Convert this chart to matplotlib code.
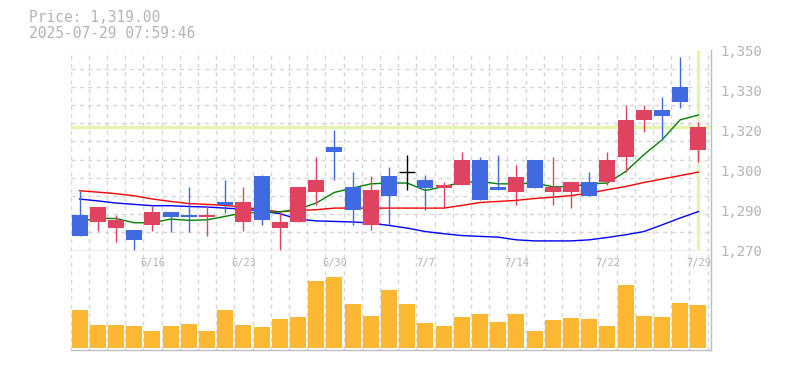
"""Daily candles with moving averages and volume, 6/10 - 7/29."""
import matplotlib
matplotlib.use("Agg")
import matplotlib.pyplot as plt
import numpy as np

dates = ["6/10", "6/11", "6/12", "6/13", "6/16", "6/17", "6/18", "6/19", "6/20",
         "6/23", "6/24", "6/25", "6/26", "6/27", "6/30", "7/1", "7/2", "7/3", "7/4",
         "7/7", "7/8", "7/9", "7/10", "7/11", "7/14", "7/15", "7/16", "7/17", "7/18",
         "7/22", "7/23", "7/24", "7/25", "7/28", "7/29"]
shown_dates = ["6/16", "6/23", "6/30", "7/7", "7/14", "7/22", "7/29"]

opens = [1286.1, 1283.2, 1281.3, 1280.5, 1282.1, 1287.2, 1286.1, 1285.1, 1291.0,
         1283.2, 1300.5, 1281.3, 1283.2, 1294.5, 1311.6, 1296.6, 1282.1, 1300.5, 1302.1,
         1299.2, 1296.3, 1297.1, 1306.7, 1296.6, 1294.5, 1306.7, 1294.5, 1294.5, 1298.5,
         1298.2, 1307.7, 1321.5, 1325.5, 1334.1, 1310.2]
closes = [1278.3, 1289.1, 1284.2, 1276.5, 1287.2, 1285.1, 1285.1, 1286.1, 1289.6,
          1291.0, 1284.0, 1283.5, 1296.6, 1299.2, 1309.5, 1287.7, 1295.5, 1293.3, 1302.1,
          1296.3, 1297.3, 1306.7, 1291.5, 1295.2, 1300.4, 1296.3, 1296.6, 1298.5, 1293.3,
          1306.7, 1321.7, 1325.5, 1323.3, 1328.2, 1319.0]
highs = [1295.1, 1289.1, 1286.1, 1280.5, 1289.2, 1287.2, 1296.6, 1289.8, 1299.2,
         1296.6, 1301.1, 1287.0, 1296.6, 1307.9, 1318.0, 1302.2, 1300.5, 1304.1, 1308.6,
         1301.1, 1298.5, 1309.7, 1307.9, 1308.6, 1304.9, 1306.7, 1307.9, 1298.5, 1302.2,
         1309.7, 1327.3, 1327.3, 1330.3, 1345.3, 1321.0]
lows = [1278.3, 1280.1, 1275.7, 1272.7, 1280.1, 1279.5, 1279.5, 1278.3, 1286.7,
        1280.1, 1282.1, 1272.7, 1283.2, 1289.6, 1299.0, 1282.1, 1280.2, 1282.1, 1295.2,
        1287.7, 1288.8, 1297.1, 1291.5, 1295.2, 1289.6, 1296.3, 1289.6, 1288.8, 1293.3,
        1297.1, 1302.1, 1317.0, 1314.0, 1326.3, 1305.7]

ma_short = [1283.7, 1284.7, 1284.7, 1283.1, 1283.1, 1284.5, 1284.0, 1284.2, 1285.5,
            1286.8, 1287.0, 1287.2, 1288.2, 1290.5, 1294.5, 1296.1, 1297.7, 1298.0, 1298.0,
            1295.2, 1296.7, 1298.2, 1298.6, 1297.7, 1297.7, 1298.0, 1296.6, 1296.6, 1297.7,
            1298.0, 1302.3, 1308.6, 1314.2, 1321.7, 1323.5]
ma_mid = [1295.1, 1294.6, 1294.0, 1293.2, 1292.0, 1291.1, 1290.3, 1290.0, 1289.6,
          1289.0, 1288.0, 1287.2, 1287.7, 1288.0, 1288.6, 1288.6, 1288.6, 1288.6, 1288.6,
          1288.6, 1288.6, 1289.6, 1290.7, 1291.1, 1291.5, 1292.2, 1292.7, 1293.3, 1294.2,
          1295.5, 1296.7, 1298.2, 1299.5, 1300.8, 1302.1]
ma_long = [1292.0, 1291.3, 1290.5, 1290.0, 1289.5, 1289.5, 1289.2, 1289.0, 1288.6,
           1288.2, 1287.5, 1286.5, 1284.5, 1283.8, 1283.6, 1283.4, 1283.0, 1282.1, 1281.1,
           1279.8, 1279.0, 1278.3, 1278.0, 1277.7, 1276.7, 1276.3, 1276.3, 1276.3, 1276.7,
           1277.6, 1278.6, 1279.8, 1282.3, 1284.9, 1287.3]

volume = [3800, 2300, 2300, 2200, 1700, 2200, 2400, 1700, 3800, 2300, 2100, 2900,
          3100, 6700, 7100, 4400, 3200, 5800, 4400, 2500, 2200, 3100, 3400, 2600,
          3400, 1700, 2800, 3000, 2900, 2200, 6300, 3200, 3100, 4500, 4300]

price_now = 1319.0
tick_labels = ["1,270", "1,290", "1,300", "1,320", "1,330", "1,350"]
y_lo, y_hi = 1272.7, 1347.7

RED = "#e0435f"
BLUE = "#4169e1"
GRID = "#d6d6d6"
AXIS = "#bdbdbd"
TEXT = "#b4b4b4"
HILITE = "#e4f5ae"
MONO = "DejaVu Sans Mono"

x = np.arange(len(dates))
o, c, h, l = map(np.array, (opens, closes, highs, lows))
cols = np.where(c > o, RED, np.where(c < o, BLUE, "black"))

fig = plt.figure(figsize=(7.85, 3.7), dpi=100)
ax = fig.add_axes([70.5 / 785, 1 - 250.5 / 370, 640 / 785, 200 / 370])
axv = fig.add_axes([70.5 / 785, 1 - 350 / 370, 640 / 785, 99.5 / 370])

xmax = len(dates) - 0.5 + 3 / 18.2
for a in (ax, axv):
    a.set_xlim(-0.5, xmax)
    for b in np.arange(-0.5, len(dates), 1.0):
        a.axvline(b, color=GRID, lw=1, ls=(0, (3, 3)), zorder=0)
    for s in ("left", "top"):
        a.spines[s].set_visible(False)
    for s in ("right", "bottom"):
        a.spines[s].set_color(AXIS)
        a.spines[s].set_linewidth(1)
    a.set_xticks([])
    a.tick_params(length=0)

# price panel
ax.set_ylim(y_lo, y_hi)
for gy in np.linspace(y_lo, y_hi, 12)[1:]:
    ax.axhline(gy, color=GRID, lw=1, ls=(0, (3, 3)), zorder=0)
ax.axhline(price_now, color=HILITE, lw=2.4, zorder=1)
ax.axvline(x[-1], ymin=0.012, color=HILITE, lw=2.4, zorder=1)

ax.plot(x, ma_mid, color="#ff0000", lw=1, zorder=2)
ax.plot(x, ma_long, color="#0000ff", lw=1, zorder=2)
ax.plot(x, ma_short, color="#008000", lw=1, zorder=2)

ax.vlines(x, l, h, colors=cols, lw=1, zorder=3)
body = np.abs(c - o)
ax.bar(x, body, bottom=np.minimum(o, c), width=0.88, color=cols, lw=0, zorder=4)
doji = body == 0
ax.hlines(o[doji], x[doji] - 0.44, x[doji] + 0.44, colors="black", lw=1, zorder=4)

ax.yaxis.tick_right()
ax.set_yticks(np.linspace(y_lo, y_hi, len(tick_labels)))
ax.set_yticklabels(tick_labels, family=MONO, fontsize=10, color=TEXT)
ax.tick_params(axis="y", pad=7)

# volume panel
axv.bar(x, volume, width=0.88, color="#fdb833", lw=0, zorder=2)
axv.set_ylim(-230, 9720)
axv.set_yticks([])
for d in shown_dates:
    axv.text(dates.index(d), 0.875, d, transform=axv.get_xaxis_transform(),
             ha="center", va="center", family=MONO, fontsize=7.5, color=TEXT)

fig.text(29 / 785, 1 - 18 / 370, "Price: 1,319.00", family=MONO, fontsize=10.5,
         color=TEXT, va="center", ha="left")
fig.text(29 / 785, 1 - 33 / 370, "2025-07-29 07:59:46", family=MONO, fontsize=10.5,
         color=TEXT, va="center", ha="left")

fig.savefig("out.png", dpi=100)
